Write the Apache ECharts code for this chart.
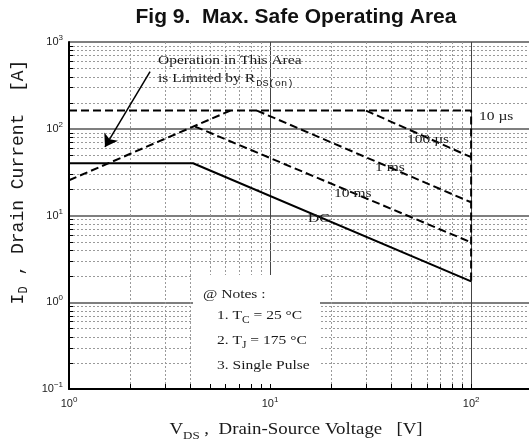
<!DOCTYPE html>
<html>
<head>
<meta charset="utf-8">
<script src="https://cdn.jsdelivr.net/npm/echarts@6/dist/echarts.min.js"></script>
<style>
  html, body { margin: 0; padding: 0; background: #fff; }
  #chart { width: 529px; height: 445px; }
</style>
</head>
<body>
<div id="chart"></div>
<script>
// axis ranges (V, A)
const xRange = [1, 194]
const yRange = [0.1, 1000]

// SOA boundaries
const dcLine = [[1, 40], [4.14, 40], [100, 1.74]]
const us10Line = [[1, 162], [100, 162], [100, 1.74]]
const rdsLine = [[1, 25.5], [6.35, 162]]
const us100Line = [[30, 162], [100, 47]]
const ms1Line = [[8.6, 162], [100, 14.2]]
const ms10Line = [[4.24, 106], [100, 4.9]]
const arrowLine = [[2.53, 456], [1.51, 61.7]]

// grid / tick values
const xMinor = [2, 3, 4, 5, 6, 7, 8, 9, 20, 30, 40, 50, 60, 70, 80, 90]
const xTicks = [2, 3, 4, 5, 6, 7, 8, 9, 10, 20, 30, 40, 50, 60, 70, 80, 90, 100]
const yMinor = [0.2, 0.3, 0.4, 0.5, 0.6, 0.7, 0.8, 0.9, 2, 3, 4, 5, 6, 7, 8, 9,
  20, 30, 40, 50, 60, 70, 80, 90, 200, 300, 400, 500, 600, 700, 800, 900]

const mono = 'Liberation Mono'
const serif = 'Liberation Serif'
const sans = 'Liberation Sans'
const ink = '#1a1a1a'
const stretch = 1.15 // the figure's text face is a widened serif

function expLabel(v) {
  const l = Math.log10(v)
  const e = Math.round(l)
  if (Math.abs(l - e) > 1e-6) return ''
  return '10{s|' + (e < 0 ? '\u2212' + (-e) : e) + '}'
}

function gridRender(dir, kind) {
  return function (params, api) {
    const cs = params.coordSys
    const p = api.coord(dir === 'x' ? [api.value(0), 1] : [1, api.value(1)])
    let shape
    if (dir === 'x') {
      const x = Math.round(p[0]) + 0.5
      shape = kind === 'grid'
        ? { x1: x, y1: cs.y, x2: x, y2: cs.y + cs.height }
        : { x1: x, y1: cs.y + cs.height, x2: x, y2: cs.y + cs.height - 5 }
    } else {
      const y = Math.round(p[1]) + 0.5
      shape = kind === 'grid'
        ? { x1: cs.x, y1: y, x2: cs.x + cs.width, y2: y }
        : { x1: cs.x, y1: y, x2: cs.x + 4, y2: y }
    }
    return {
      type: 'line',
      shape: shape,
      style: kind === 'grid'
        ? { stroke: '#9a9a9a', lineWidth: 1, lineDash: [2, 2] }
        : { stroke: '#000', lineWidth: 1 }
    }
  }
}

function boundary(name, data, dashed) {
  return {
    name: name,
    type: 'line',
    data: data,
    showSymbol: false,
    silent: true,
    z: 5,
    lineStyle: { color: '#000', width: 2, type: dashed ? [8, 4] : 'solid' }
  }
}

// serif note text, left anchored, widened
function note(x, y, text, size, rich) {
  return {
    type: 'text', z: 30, x: x, y: y, scaleX: stretch, originX: 0, originY: 0,
    style: Object.assign({
      text: text, fontFamily: serif, fontSize: size || 13.5, fill: ink, verticalAlign: 'middle'
    }, rich ? { rich: rich } : {})
  }
}

const subRich = {
  a: { fontFamily: serif, fontSize: 13.5, fill: ink },
  b: { fontFamily: serif, fontSize: 10, fill: ink, padding: [10, 0, 0, 0] }
}

const chart = echarts.init(document.getElementById('chart'))

chart.setOption({
  animation: false,
  backgroundColor: '#fff',
  grid: { left: 69, top: 42, right: 0, bottom: 56 },
  xAxis: {
    type: 'log',
    logBase: 10,
    min: xRange[0],
    max: xRange[1],
    axisLine: { lineStyle: { color: '#000', width: 2 } },
    axisTick: { show: false },
    splitLine: { showMaxLine: false, lineStyle: { color: '#444', width: 1 } },
    axisLabel: {
      formatter: expLabel,
      margin: 7,
      color: '#222',
      fontFamily: sans,
      fontSize: 11,
      showMaxLabel: false,
      rich: { s: { fontSize: 8, fontFamily: sans, color: '#222', padding: [0, 0, 8, 0] } }
    }
  },
  yAxis: {
    type: 'log',
    logBase: 10,
    min: yRange[0],
    max: yRange[1],
    axisLine: { lineStyle: { color: '#000', width: 2 } },
    axisTick: { show: false },
    splitLine: { lineStyle: { color: '#555', width: 1.5 } },
    axisLabel: {
      formatter: expLabel,
      margin: 6,
      color: '#222',
      fontFamily: sans,
      fontSize: 11,
      rich: { s: { fontSize: 8, fontFamily: sans, color: '#222', padding: [0, 0, 8, 0] } }
    }
  },
  series: [
    { type: 'custom', silent: true, z: 1, data: xMinor.map(v => [v, 1]), renderItem: gridRender('x', 'grid') },
    { type: 'custom', silent: true, z: 1, data: yMinor.map(v => [1, v]), renderItem: gridRender('y', 'grid') },
    { type: 'custom', silent: true, z: 20, data: xTicks.map(v => [v, 1]), renderItem: gridRender('x', 'tick') },
    { type: 'custom', silent: true, z: 20, data: yMinor.map(v => [1, v]), renderItem: gridRender('y', 'tick') },
    boundary('10 µs', us10Line, true),
    boundary('RDS(on)', rdsLine, true),
    boundary('100 µs', us100Line, true),
    boundary('1 ms', ms1Line, true),
    boundary('10 ms', ms10Line, true),
    boundary('DC', dcLine, false),
    {
      type: 'lines',
      coordinateSystem: 'cartesian2d',
      silent: true,
      z: 6,
      symbol: ['none', 'arrow'],
      symbolSize: [6, 12],
      lineStyle: { color: '#000', width: 1.5, opacity: 1 },
      data: [{ coords: arrowLine }]
    }
  ],
  graphic: [
    {
      type: 'text', z: 30, x: 296, y: 17,
      style: {
        text: 'Fig 9.  Max. Safe Operating Area', fontFamily: sans, fontWeight: 'bold',
        fontSize: 21, fill: '#111', align: 'center', verticalAlign: 'middle'
      }
    },
    // notes box
    { type: 'rect', z: 10, silent: true, shape: { x: 193, y: 275, width: 127, height: 113 }, style: { fill: '#fff' } },
    note(203, 294, '@ Notes :'),
    note(217, 315, '{a|1. T}{b|C}{a| = 25 °C}', 13.5, subRich),
    note(217, 340, '{a|2. T}{b|J}{a| = 175 °C}', 13.5, subRich),
    note(217, 365, '3. Single Pulse'),
    // region annotation
    note(158, 60, 'Operation in This Area'),
    note(158, 78, '{a|is Limited by R}{b|DS(on)}', 13.5, {
      a: { fontFamily: serif, fontSize: 13.5, fill: ink },
      b: { fontFamily: mono, fontSize: 9, fill: ink, padding: [12, 0, 0, 1] }
    }),
    // pulse labels
    note(479, 116, '10 µs'),
    note(407, 139, '100 µs'),
    note(375, 167, '1 ms'),
    note(334, 193, '10 ms'),
    note(308, 218, 'DC'),
    // axis titles
    {
      type: 'text', z: 30, x: 18, y: 182, rotation: Math.PI / 2,
      style: {
        text: '{a|I}{b|D}{a| , Drain Current  [A]}', align: 'center', verticalAlign: 'middle',
        rich: { a: { fontFamily: mono, fontSize: 18, fill: ink }, b: { fontFamily: mono, fontSize: 12, fill: ink, padding: [12, 0, 0, 0] } }
      }
    },
    {
      type: 'text', z: 30, x: 296, y: 430, scaleX: 1.18, originX: 0, originY: 0,
      style: {
        text: '{a|V}{b|DS}{a| ,  Drain-Source Voltage   [V]}', align: 'center', verticalAlign: 'middle',
        rich: { a: { fontFamily: serif, fontSize: 16, fill: ink }, b: { fontFamily: serif, fontSize: 11, fill: ink, padding: [12, 0, 0, 0] } }
      }
    }
  ]
})
</script>
</body>
</html>
